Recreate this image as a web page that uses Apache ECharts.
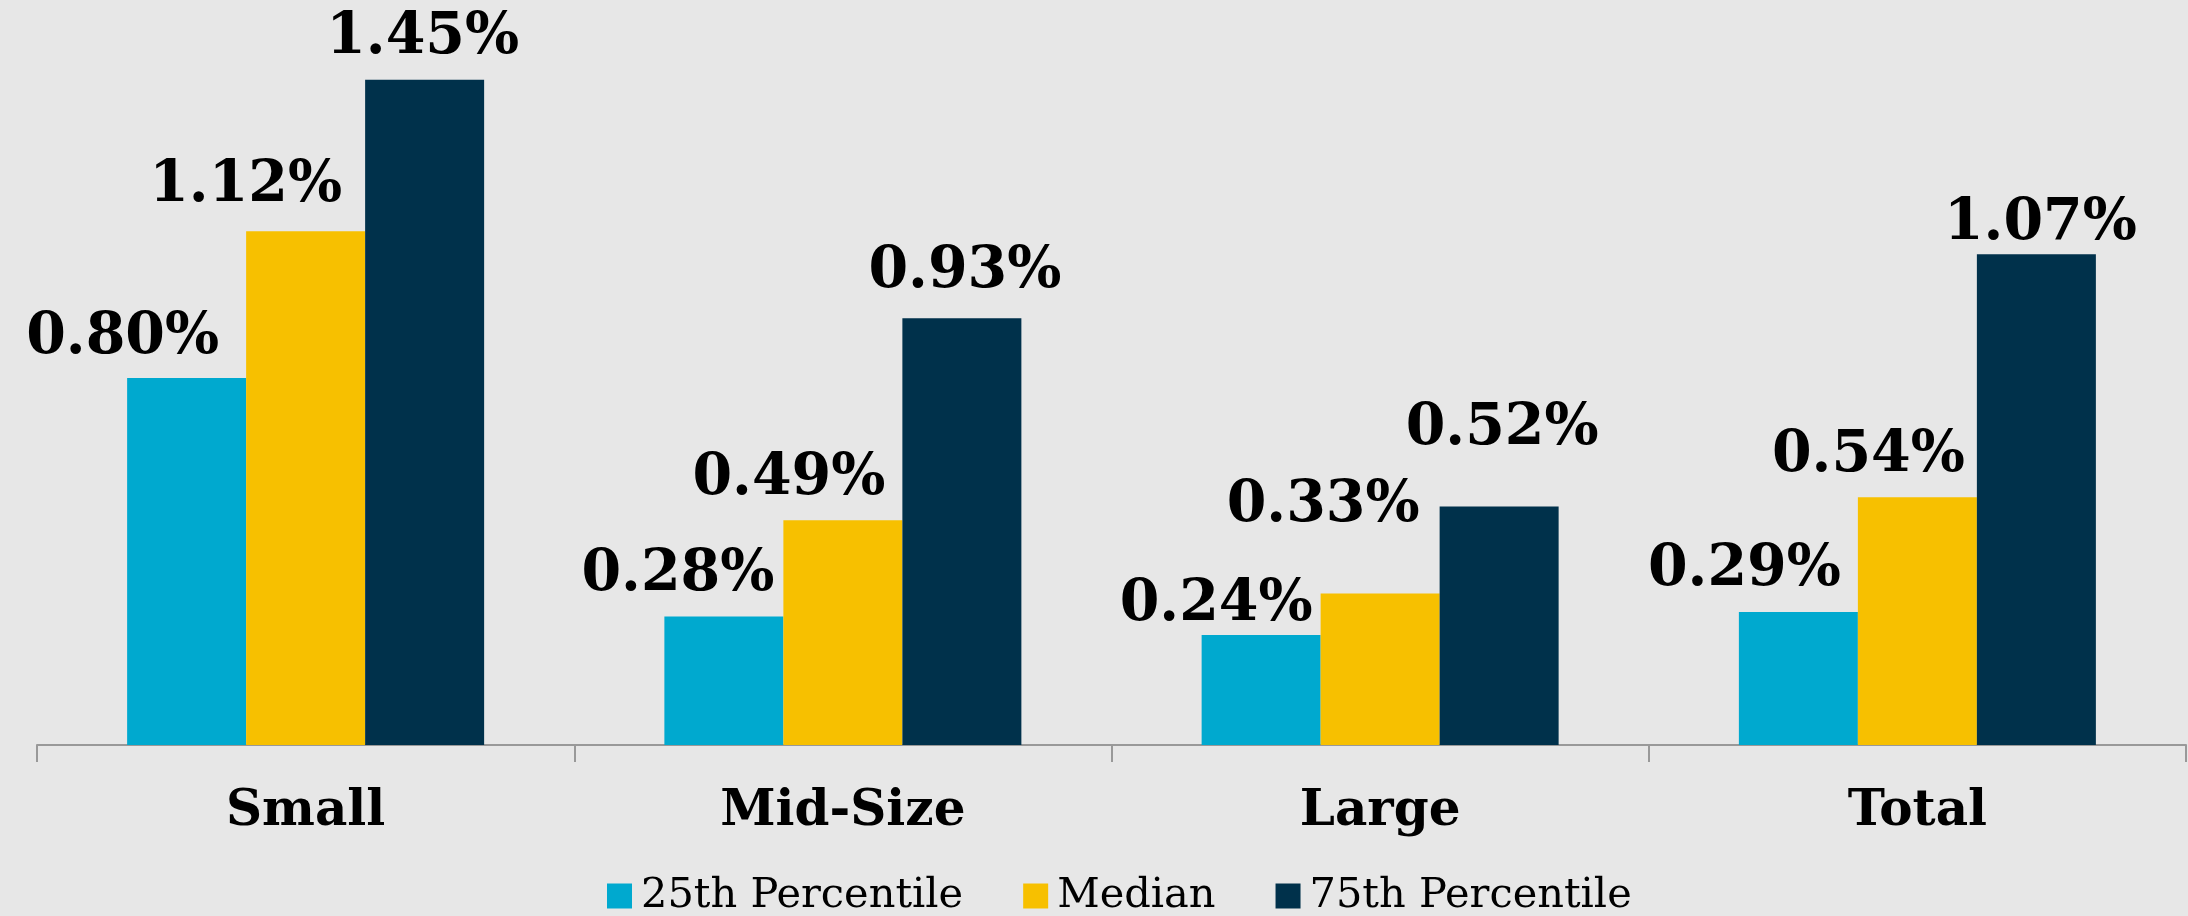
<!DOCTYPE html>
<html>
<head>
<meta charset="utf-8">
<script src="https://cdn.jsdelivr.net/npm/echarts@6/dist/echarts.min.js"></script>
<style>
html,body{margin:0;padding:0;background:#e7e7e7;}
#c{width:2188px;height:916px;}
</style>
</head>
<body>
<div id="c"></div>
<script>
var categories = ['Small', 'Mid-Size', 'Large', 'Total'];
var seriesNames = ['25th Percentile', 'Median', '75th Percentile'];
var p25 = [0.80, 0.28, 0.24, 0.29];
var median = [1.12, 0.49, 0.33, 0.54];
var p75 = [1.45, 0.93, 0.52, 1.07];

var colors = ['#00a9cf', '#f7c000', '#00314b'];
// label shifts (px) as placed by hand in the original
var labelShiftX = [[-64, -46, -45, -54], [-60, -54, -57, -49], [-2, 3, 3, 4]];
var labelShiftY = [[2, 0, 12, 0], [-4, 0, -46, 0], [0, -5, -36, 12]];
var font = 'DejaVu Serif';

function mk(name, data, i) {
  return {
    name: name,
    type: 'bar',
    data: data.map(function (v, j) {
      return { value: v, label: { offset: [labelShiftX[i][j], labelShiftY[i][j]] } };
    }),
    barWidth: 119,
    barGap: '0%',
    itemStyle: { color: colors[i] },
    label: {
      show: true,
      position: 'top',
      distance: 13,
      formatter: function (p) { return p.value.toFixed(2) + '%'; },
      fontFamily: font,
      fontWeight: 'bold',
      fontSize: 57,
      color: '#000'
    }
  };
}

var chart = echarts.init(document.getElementById('c'));
chart.setOption({
  backgroundColor: '#e7e7e7',
  animation: false,
  grid: { left: 37, right: 2, top: 11, bottom: 171, containLabel: false },
  legend: {
    left: 602,
    top: 870,
    itemWidth: 25,
    itemHeight: 25,
    itemGap: 60,
    icon: 'rect',
    data: seriesNames,
    textStyle: { fontFamily: font, fontSize: 41.5, color: '#000', padding: [0, 0, 0, 4] }
  },
  xAxis: {
    type: 'category',
    data: categories,
    axisLine: { lineStyle: { color: '#999', width: 2 } },
    axisTick: { show: true, length: 17, lineStyle: { color: '#999', width: 2 } },
    axisLabel: { margin: 42, fontFamily: font, fontWeight: 'bold', fontSize: 50, color: '#000' }
  },
  yAxis: { type: 'value', min: 0, max: 1.6, show: false, splitLine: { show: false } },
  series: [mk(seriesNames[0], p25, 0), mk(seriesNames[1], median, 1), mk(seriesNames[2], p75, 2)]
});
</script>
</body>
</html>
